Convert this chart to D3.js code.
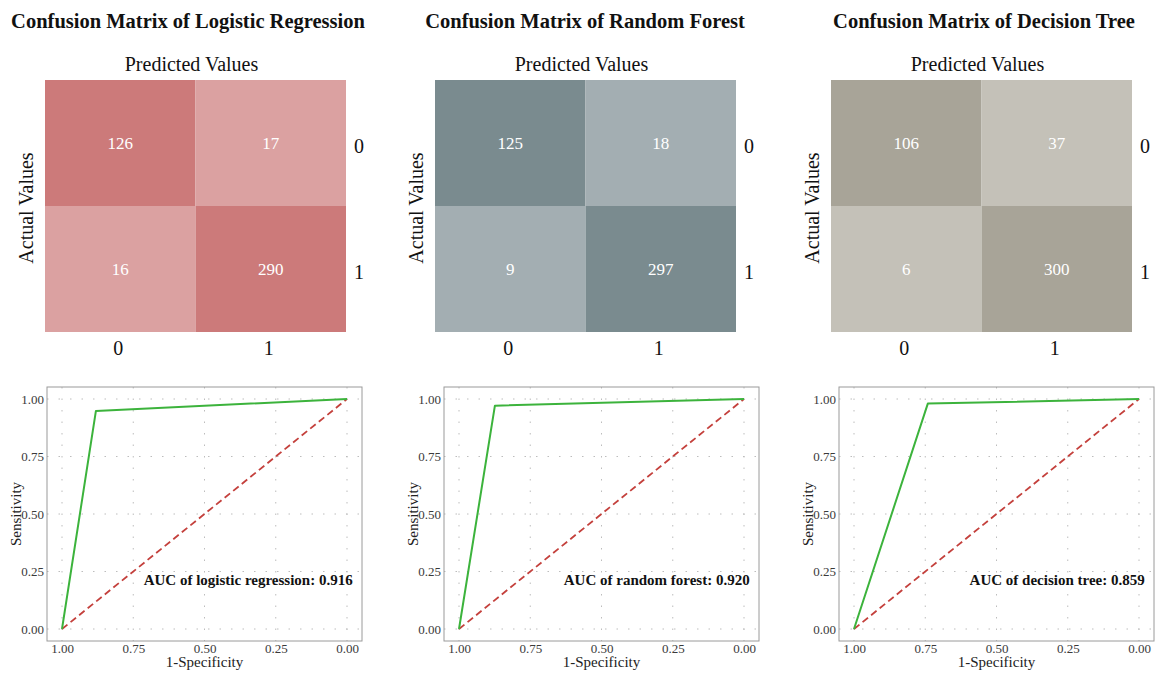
<!DOCTYPE html>
<html>
<head>
<meta charset="utf-8">
<script src="https://d3js.org/d3.v7.min.js"></script>
<style>
  body { margin: 0; background: #fff; }
  svg { display: block; font-family: "Liberation Serif", "Times New Roman", serif; }
</style>
</head>
<body>
<div id="chart"></div>
<script>
// Data
const modelTitles = ["Confusion Matrix of Logistic Regression", "Confusion Matrix of Random Forest", "Confusion Matrix of Decision Tree"];
const classLabels = ["0", "1"];
// confusion matrix cells, row-major: [actual0/pred0, actual0/pred1, actual1/pred0, actual1/pred1]
const cmValues = [
    [126, 17, 16, 290],
    [125, 18, 9, 297],
    [106, 37, 6, 300]
];
// ROC points (x axis is specificity, drawn reversed)
const rocSpecificity = [
    [1, 0.881, 0],
    [1, 0.874, 0],
    [1, 0.741, 0]
];
const rocSensitivity = [
    [0, 0.948, 1],
    [0, 0.971, 1],
    [0, 0.980, 1]
];
const aucLabels = ["AUC of logistic regression: 0.916", "AUC of random forest: 0.920", "AUC of decision tree: 0.859"];
const rocTicks = [1, 0.75, 0.5, 0.25, 0];

const palettes = [
    { correct: "#cc7a7a", wrong: "#dba1a1" },
    { correct: "#7a8b8f", wrong: "#a3aeb2" },
    { correct: "#a8a498", wrong: "#c4c1b8" }
];

const config = {
    width: 1157,
    height: 674,
    matrixLeft: [45, 435, 831],
    matrixTop: 80,
    matrixWidth: 301,
    matrixHeight: 252,
    titleCenter: [188, 585, 984],
    rocLeft: [47, 444, 839],
    rocTop: 387,
    rocWidth: 315,
    rocHeight: 254,
    pad: { x: 15, y: 12 }
};

const svg = d3.select("#chart").append("svg")
    .attr("width", config.width)
    .attr("height", config.height);

modelTitles.forEach((title, i) => {
    drawMatrix(i);
    drawRoc(i);
});

function drawMatrix(i) {
    const { matrixLeft, matrixTop, matrixWidth, matrixHeight, titleCenter } = config;
    const x0 = matrixLeft[i];
    const g = svg.append("g");

    const x = d3.scaleBand().domain(classLabels).range([x0, x0 + matrixWidth]);
    const y = d3.scaleBand().domain(classLabels).range([matrixTop, matrixTop + matrixHeight]);

    const cells = cmValues[i].map((v, k) => ({
        actual: classLabels[Math.floor(k / 2)],
        predicted: classLabels[k % 2],
        value: v
    }));

    // title
    g.append("text")
        .attr("x", titleCenter[i])
        .attr("y", 28)
        .attr("text-anchor", "middle")
        .attr("font-weight", "bold")
        .attr("font-size", 20.5)
        .attr("fill", "#111")
        .text(modelTitles[i]);

    g.append("text")
        .attr("x", x0 + matrixWidth / 2 - 4)
        .attr("y", 71)
        .attr("text-anchor", "middle")
        .attr("font-size", 20)
        .attr("fill", "#111")
        .text("Predicted Values");

    g.append("text")
        .attr("transform", `translate(${x0 - 12},${matrixTop + matrixHeight / 2 + 2}) rotate(-90)`)
        .attr("text-anchor", "middle")
        .attr("font-size", 20)
        .attr("fill", "#111")
        .text("Actual Values");

    g.selectAll(".cell")
        .data(cells)
        .join("rect")
        .attr("class", "cell")
        .attr("x", d => x(d.predicted))
        .attr("y", d => y(d.actual))
        .attr("width", x.bandwidth())
        .attr("height", y.bandwidth())
        .attr("fill", d => d.actual === d.predicted ? palettes[i].correct : palettes[i].wrong);

    g.selectAll(".cell-label")
        .data(cells)
        .join("text")
        .attr("class", "cell-label")
        .attr("x", d => x(d.predicted) + x.bandwidth() / 2)
        .attr("y", d => y(d.actual) + y.bandwidth() / 2 + 6)
        .attr("text-anchor", "middle")
        .attr("font-size", 17)
        .attr("fill", "#fff")
        .text(d => d.value);

    // row labels on the right
    g.selectAll(".row-label")
        .data(classLabels)
        .join("text")
        .attr("class", "row-label")
        .attr("x", x0 + matrixWidth + 13)
        .attr("y", d => y(d) + y.bandwidth() / 2 + 10)
        .attr("text-anchor", "middle")
        .attr("font-size", 20)
        .attr("fill", "#111")
        .text(d => d);

    // column labels below
    g.selectAll(".col-label")
        .data(classLabels)
        .join("text")
        .attr("class", "col-label")
        .attr("x", d => x(d) + x.bandwidth() / 2 - 2)
        .attr("y", matrixTop + matrixHeight + 23)
        .attr("text-anchor", "middle")
        .attr("font-size", 20)
        .attr("fill", "#111")
        .text(d => d);
}

function drawRoc(i) {
    const { rocLeft, rocTop, rocWidth, rocHeight, pad } = config;
    const left = rocLeft[i];
    const g = svg.append("g");

    const x = d3.scaleLinear().domain([1, 0]).range([left + pad.x, left + rocWidth - pad.x]);
    const y = d3.scaleLinear().domain([0, 1]).range([rocTop + rocHeight - pad.y, rocTop + pad.y]);

    // dotted grid
    g.selectAll(".vgrid")
        .data(rocTicks)
        .join("line")
        .attr("x1", d => x(d)).attr("x2", d => x(d))
        .attr("y1", rocTop).attr("y2", rocTop + rocHeight)
        .attr("stroke", "#bdbdbd")
        .attr("stroke-width", 1)
        .attr("stroke-dasharray", "1.5,10");

    g.selectAll(".hgrid")
        .data(rocTicks)
        .join("line")
        .attr("x1", left).attr("x2", left + rocWidth)
        .attr("y1", d => y(d)).attr("y2", d => y(d))
        .attr("stroke", "#bdbdbd")
        .attr("stroke-width", 1)
        .attr("stroke-dasharray", "1.5,10");

    // reference diagonal
    g.append("line")
        .attr("x1", x(1)).attr("y1", y(0))
        .attr("x2", x(0)).attr("y2", y(1))
        .attr("stroke", "#c4403c")
        .attr("stroke-width", 1.8)
        .attr("stroke-dasharray", "7,4");

    const pts = rocSpecificity[i].map((s, k) => [s, rocSensitivity[i][k]]);
    g.append("path")
        .datum(pts)
        .attr("fill", "none")
        .attr("stroke", "#3cb33c")
        .attr("stroke-width", 2)
        .attr("stroke-linejoin", "round")
        .attr("d", d3.line().x(d => x(d[0])).y(d => y(d[1])));

    g.append("rect")
        .attr("x", left).attr("y", rocTop)
        .attr("width", rocWidth).attr("height", rocHeight)
        .attr("fill", "none")
        .attr("stroke", "#9a9a9a")
        .attr("stroke-width", 1);

    // axes (labels only)
    const xAxis = g.append("g")
        .attr("transform", `translate(0,${rocTop + rocHeight})`)
        .call(d3.axisBottom(x).tickValues(rocTicks).tickFormat(d3.format(".2f")).tickSize(0).tickPadding(3));
    const yAxis = g.append("g")
        .attr("transform", `translate(${left},0)`)
        .call(d3.axisLeft(y).tickValues(rocTicks).tickFormat(d3.format(".2f")).tickSize(0).tickPadding(3));
    [xAxis, yAxis].forEach(a => {
        a.select(".domain").remove();
        a.selectAll("text")
            .attr("font-family", "Liberation Serif, serif")
            .attr("font-size", 13)
            .attr("fill", "#3a3a3a");
    });

    g.append("text")
        .attr("x", (x(1) + x(0)) / 2)
        .attr("y", rocTop + rocHeight + 26)
        .attr("text-anchor", "middle")
        .attr("font-size", 15)
        .attr("fill", "#222")
        .text("1-Specificity");

    g.append("text")
        .attr("transform", `translate(${left - 26},${(y(0) + y(1)) / 2}) rotate(-90)`)
        .attr("text-anchor", "middle")
        .attr("font-size", 15)
        .attr("fill", "#222")
        .text("Sensitivity");

    g.append("text")
        .attr("x", x(-0.02))
        .attr("y", y(0.19))
        .attr("text-anchor", "end")
        .attr("font-weight", "bold")
        .attr("font-size", 15)
        .attr("fill", "#111")
        .text(aucLabels[i]);
}
</script>
</body>
</html>
